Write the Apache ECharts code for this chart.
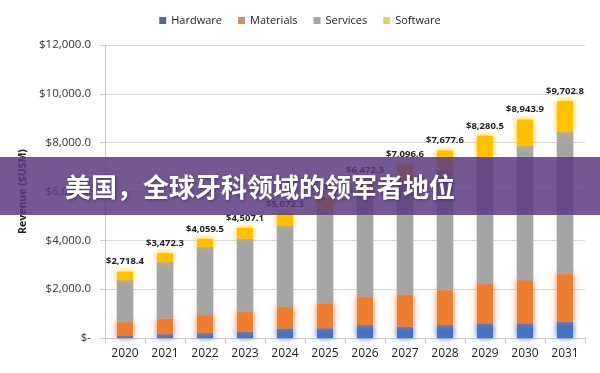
<!DOCTYPE html>
<html>
<head>
<meta charset="utf-8">
<style>html,body{margin:0;padding:0;background:#fff;}#c{width:600px;height:373px;}</style>
<script src="https://cdn.jsdelivr.net/npm/echarts@6/dist/echarts.min.js"></script>
</head>
<body>
<div id="c"></div>
<script>
const categories = ['2020','2021','2022','2023','2024','2025','2026','2027','2028','2029','2030','2031'];
const hardware  = [110, 160, 200, 260, 390, 400, 530, 460, 530, 600, 600, 670];
const materials = [560, 640, 740, 810, 890, 1020, 1160, 1320, 1430, 1630, 1770, 1970];
const services  = [1698.4, 2322.3, 2789.5, 2997.1, 3332.3, 3821.7, 4182.3, 4636.6, 4937.6, 5150.5, 5513.9, 5802.8];
const software  = [350, 350, 330, 440, 460, 520, 600, 680, 780, 900, 1060, 1260];
const totalLabels = ['$2,718.4','$3,472.3','$4,059.5','$4,507.1','$5,072.3','$5,761.7','$6,472.3','$7,096.6','$7,677.6','$8,280.5','$8,943.9','$9,702.8'];
const yTickLabels = ['$-','$2,000.0','$4,000.0','$6,000.0','$8,000.0','$10,000.0','$12,000.0'];
const seriesNames = ['Hardware','Materials','Services','Software'];
const title = '美国，全球牙科领域的领军者地位';

const barColors = ['#4472C4','#ED7D31','#A5A5A5','#FFC000'];
const legendColors = ['#5A6690','#C4906E','#A6A6A6','#D8D27C'];
const font = '"Open Sans", "Noto Sans", sans-serif';
const dataSets = [hardware, materials, services, software];

const chart = echarts.init(document.getElementById('c'), null, {renderer:'canvas'});
const series = seriesNames.map((name, i) => ({
  name: name,
  type: 'bar',
  stack: 'total',
  barWidth: 16,
  data: dataSets[i],
  itemStyle: {
    color: barColors[i],
    shadowBlur: i === 2 ? 2 : 6,
    shadowColor: barColors[i]
  },
  label: i === 3 ? {
    show: true,
    position: 'top',
    distance: 5,
    formatter: p => totalLabels[p.dataIndex],
    fontFamily: font,
    fontWeight: 'bold',
    fontSize: 9.5,
    color: '#222'
  } : {show: false}
}));

chart.setOption({
  animation: false,
  backgroundColor: '#fff',
  legend: {
    top: 10,
    left: 'center',
    itemWidth: 7,
    itemHeight: 7,
    itemGap: 16,
    icon: 'rect',
    textStyle: {fontFamily: font, fontSize: 11, color: '#222'},
    data: seriesNames.map((n, i) => ({name: n, itemStyle: {color: legendColors[i], shadowBlur: 0}}))
  },
  grid: {left: 105, right: 15, top: 45, bottom: 35},
  xAxis: {
    type: 'category',
    data: categories,
    axisLine: {lineStyle: {color: '#c8c8c8'}},
    axisTick: {show: true, length: 5, lineStyle: {color: '#c8c8c8'}},
    axisLabel: {fontFamily: font, fontSize: 12, color: '#222', margin: 10}
  },
  yAxis: {
    type: 'value',
    min: 0,
    max: 12000,
    interval: 2000,
    name: 'Revenue ($USM)',
    nameLocation: 'middle',
    nameGap: 73,
    nameTextStyle: {fontFamily: font, fontSize: 10.5, fontWeight: 'bold', color: '#222'},
    axisLine: {show: true, lineStyle: {color: '#c8c8c8'}},
    axisTick: {show: true, length: 5, lineStyle: {color: '#c8c8c8'}},
    splitLine: {lineStyle: {color: '#d9d9d9'}},
    axisLabel: {
      fontFamily: font, fontSize: 11.5, color: '#333', margin: 14,
      formatter: (v, idx) => yTickLabels[idx]
    }
  },
  series: series,
  graphic: [
    {type: 'rect', z: 100, shape: {x: 0, y: 157, width: 600, height: 58},
     style: {fill: 'rgba(88,56,128,0.84)'}},
    {type: 'text', z: 101, style: {
      text: title, x: 65, y: 187, verticalAlign: 'middle', align: 'left',
      font: 'bold 26px "Noto Sans CJK SC", sans-serif', fill: '#ffffff',
      textShadowBlur: 3, textShadowColor: 'rgba(0,0,0,0.35)', textShadowOffsetX: 1, textShadowOffsetY: 1
    }}
  ]
});
</script>
</body>
</html>
